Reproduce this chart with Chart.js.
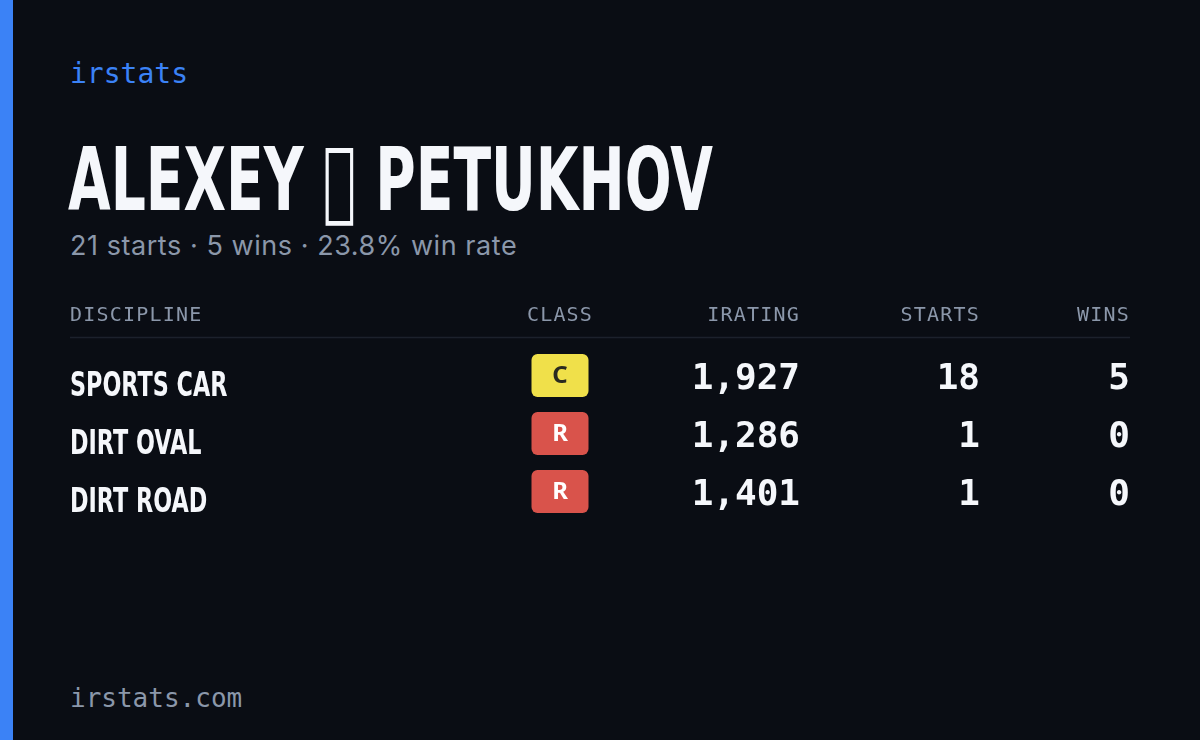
<!DOCTYPE html>
<html>
<head>
<meta charset="utf-8">
<script src="https://cdn.jsdelivr.net/npm/chart.js@4"></script>
<style>
  html, body { margin: 0; padding: 0; }
  body { width: 1200px; height: 740px; background: #0a0d14; position: relative; overflow: hidden; }
  .accent { position: absolute; left: 0; top: 0; width: 13px; height: 740px; background: #3b82f6; }
  .brand { position: absolute; left: 70px; top: 57px; font: 28px "DejaVu Sans Mono", monospace; color: #3b82f6; }
  .name { position: absolute; left: 68px; top: 128px; font: bold 88px "DejaVu Sans", sans-serif; color: #f5f7fb; white-space: nowrap; transform: scaleX(0.627); transform-origin: left top; }
  .sub { position: absolute; left: 70px; top: 229px; font: 27px Inter, sans-serif; color: #8b97aa; letter-spacing: 0.55px; }
  .foot { position: absolute; left: 70px; top: 683px; font: 26px "DejaVu Sans Mono", monospace; color: #8b97aa; }
  #table { position: absolute; left: 0; top: 290px; }
</style>
</head>
<body>
<div class="accent"></div>
<div class="brand">irstats</div>
<div class="name">ALEXEY &#xE000; PETUKHOV</div>
<div class="sub">21 starts · 5 wins · 23.8% win rate</div>
<canvas id="table" width="1200" height="240"></canvas>
<div class="foot">irstats.com</div>
<script>
// --- data ---
const headers = ['DISCIPLINE', 'CLASS', 'IRATING', 'STARTS', 'WINS'];
const disciplines = ['SPORTS CAR', 'DIRT OVAL', 'DIRT ROAD'];
const classes = ['C', 'R', 'R'];
const iratings = [1927, 1286, 1401];
const starts = [18, 1, 1];
const wins = [5, 0, 0];

// column anchors (x units = px) and alignment
const colX = [70, 560, 800, 980, 1130];
const colAlign = ['left', 'center', 'right', 'right', 'right'];
const badgeColors = { C: ['#f0e04a', '#2a2a20'], R: ['#d9534b', '#ffffff'] };

const tablePlugin = {
  id: 'tableText',
  afterDraw(chart) {
    const ctx = chart.ctx;
    const xs = chart.scales.x, ys = chart.scales.y;
    ctx.save();
    // header row
    const hy = ys.getPixelForValue(-1.08);
    ctx.font = '20px "DejaVu Sans Mono", monospace';
    ctx.fillStyle = '#8b97aa';
    ctx.textBaseline = 'middle';
    ctx.letterSpacing = '1.2px';
    headers.forEach((h, i) => {
      ctx.textAlign = colAlign[i];
      ctx.fillText(h, xs.getPixelForValue(colX[i]), hy);
    });
    ctx.letterSpacing = '0px';
    // divider
    const dy = ys.getPixelForValue(-0.7);
    ctx.strokeStyle = '#1c212c';
    ctx.lineWidth = 1.5;
    ctx.beginPath();
    ctx.moveTo(xs.getPixelForValue(70), dy);
    ctx.lineTo(xs.getPixelForValue(1130), dy);
    ctx.stroke();
    // rows
    disciplines.forEach((d, r) => {
      const y = ys.getPixelForValue(r);
      ctx.fillStyle = '#f5f7fb';
      ctx.textAlign = 'left';
      ctx.font = 'bold 34px "DejaVu Sans", sans-serif';
      ctx.save();
      ctx.translate(xs.getPixelForValue(colX[0]), y + 9);
      ctx.scale(0.656, 1);
      ctx.fillText(d, 0, 0);
      ctx.restore();
      // badge
      const cx = xs.getPixelForValue(colX[1]);
      const [bg, fg] = badgeColors[classes[r]];
      ctx.fillStyle = bg;
      ctx.beginPath();
      ctx.roundRect(cx - 28.5, y - 24, 57, 43, 6);
      ctx.fill();
      ctx.fillStyle = fg;
      ctx.textAlign = 'center';
      ctx.font = 'bold 24px "Noto Sans", sans-serif';
      ctx.fillText(classes[r], cx, y - 2);
      // numbers
      ctx.fillStyle = '#f5f7fb';
      ctx.textAlign = 'right';
      ctx.font = 'bold 36px "DejaVu Sans Mono", monospace';
      ctx.fillText(iratings[r].toLocaleString('en-US'), xs.getPixelForValue(colX[2]), y + 2);
      ctx.fillText(String(starts[r]), xs.getPixelForValue(colX[3]), y + 2);
      ctx.fillText(String(wins[r]), xs.getPixelForValue(colX[4]), y + 2);
    });
    ctx.restore();
  }
};

new Chart(document.getElementById('table'), {
  type: 'scatter',
  data: { datasets: [{ data: disciplines.map((d, i) => ({ x: colX[0], y: i })), pointRadius: 0 }] },
  options: {
    responsive: false,
    animation: false,
    devicePixelRatio: 1,
    layout: { padding: 0 },
    plugins: { legend: { display: false }, tooltip: { enabled: false } },
    scales: {
      x: { type: 'linear', min: 0, max: 1200, display: false },
      y: { type: 'linear', min: -1.517, max: 2.621, reverse: true, display: false }
    }
  },
  plugins: [tablePlugin]
});
</script>
</body>
</html>
